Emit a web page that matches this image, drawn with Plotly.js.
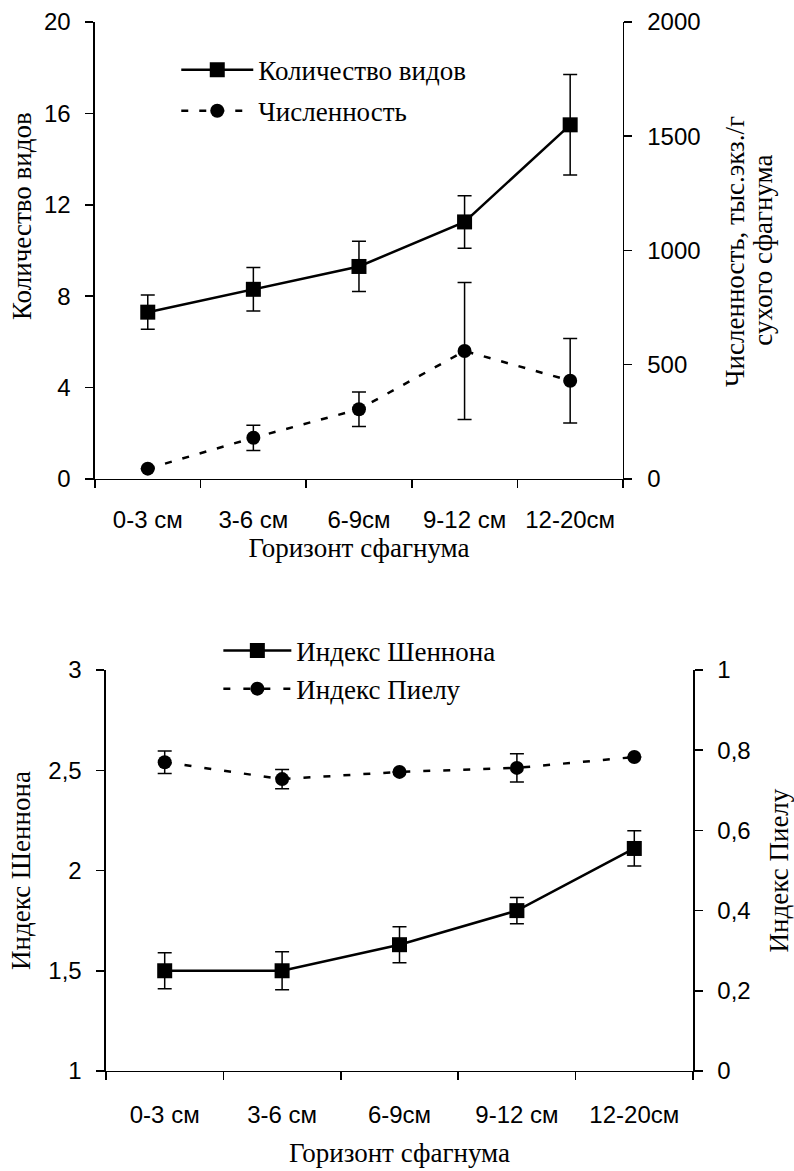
<!DOCTYPE html>
<html>
<head>
<meta charset="utf-8">
<script src="https://cdn.plot.ly/plotly-3.0.1.min.js"></script>
<style>html,body{margin:0;padding:0;background:#fff}#chart{width:794px;height:1171px}</style>
</head>
<body>
<div id="chart"></div>
<script>
// ---- data ----
const categories = ['0-3 см', '3-6 см', '6-9см', '9-12 см', '12-20см'];
const speciesCount = [7.3, 8.3, 9.3, 11.25, 15.5];
const speciesErr = [0.75, 0.95, 1.1, 1.15, 2.2];
const abundance = [45, 180, 305, 560, 430];
const abundanceErr = [0, 55, 75, 300, 185];
const shannon = [1.5, 1.5, 1.63, 1.8, 2.11];
const shannonErr = [0.09, 0.095, 0.09, 0.065, 0.088];
const pielou = [0.77, 0.728, 0.746, 0.756, 0.783];
const pielouErr = [0.028, 0.024, 0, 0.035, 0];

const leftTopTicks = [0, 4, 8, 12, 16, 20];
const leftTopText = ['0', '4', '8', '12', '16', '20'];
const rightTopTicks = [0, 500, 1000, 1500, 2000];
const rightTopText = ['0', '500', '1000', '1500', '2000'];
const leftBotTicks = [1, 1.5, 2, 2.5, 3];
const leftBotText = ['1', '1,5', '2', '2,5', '3'];
const rightBotTicks = [0, 0.2, 0.4, 0.6, 0.8, 1];
const rightBotText = ['0', '0,2', '0,4', '0,6', '0,8', '1'];
const leftTopTitle = 'Количество видов';
const rightTopTitle = ['Численность, тыс.экз./г', 'сухого сфагнума'];

const serif = '"Liberation Serif", "Times New Roman", Times, serif';
const sans = '"Liberation Sans", Arial, sans-serif';
function tf() { return {family: serif, size: 27, color: '#000'}; }

function err(arr) {
  return {type: 'data', array: arr, visible: true, color: '#000', thickness: 1.5, width: 7};
}

const traces = [
  {x: categories, y: speciesCount, name: 'Количество видов', type: 'scatter', mode: 'lines+markers',
   xaxis: 'x', yaxis: 'y', legend: 'legend', legendgroup: 'a',
   line: {color: '#000', width: 2.5}, marker: {symbol: 'square', size: 15, color: '#000'},
   error_y: err(speciesErr)},
  {x: categories, y: abundance, name: 'Численность', type: 'scatter', mode: 'lines+markers',
   xaxis: 'x', yaxis: 'y2', legend: 'legend', legendgroup: 'b',
   line: {color: '#000', width: 2.5, dash: '7px,11px'}, marker: {symbol: 'circle', size: 14, color: '#000'},
   error_y: err(abundanceErr)},
  {x: categories, y: shannon, name: 'Индекс Шеннона', type: 'scatter', mode: 'lines+markers',
   xaxis: 'x2', yaxis: 'y3', legend: 'legend2', legendgroup: 'c',
   line: {color: '#000', width: 2.5}, marker: {symbol: 'square', size: 15, color: '#000'},
   error_y: err(shannonErr)},
  {x: categories, y: pielou, name: 'Индекс Пиелу', type: 'scatter', mode: 'lines+markers',
   xaxis: 'x2', yaxis: 'y4', legend: 'legend2', legendgroup: 'd',
   line: {color: '#000', width: 2.5, dash: '7px,13px'}, marker: {symbol: 'circle', size: 14, color: '#000'},
   error_y: err(pielouErr)}
];

function ax(extra) {
  return Object.assign({
    showgrid: false, zeroline: false, showline: true, linecolor: '#000', linewidth: 1.5,
    ticks: 'outside', ticklen: 8, tickwidth: 1.5, tickcolor: '#000',
    tickfont: {family: sans, size: 24, color: '#000'}, fixedrange: true
  }, extra);
}

const layout = {
  width: 794, height: 1171,
  margin: {l: 0, r: 0, t: 0, b: 0},
  paper_bgcolor: '#fff', plot_bgcolor: '#fff',
  font: {family: serif, color: '#000'},
  xaxis: ax({
    domain: [0.1196, 0.7846], anchor: 'y', type: 'category', range: [-0.5, 4.5], tickson: 'boundaries',
    ticklabelstandoff: 19,
    title: {text: 'Горизонт сфагнума', font: tf(), standoff: 6}
  }),
  yaxis: ax({
    domain: [0.5910, 0.9812], anchor: 'x', range: [0, 20], tickmode: 'array',
    tickvals: leftTopTicks, ticktext: leftTopText, ticklabelstandoff: 10
  }),
  yaxis2: ax({
    overlaying: 'y', side: 'right', anchor: 'x', range: [0, 2000], tickmode: 'array',
    tickvals: rightTopTicks, ticktext: rightTopText, ticklabelstandoff: 10
  }),
  xaxis2: ax({
    domain: [0.1335, 0.8728], anchor: 'y3', type: 'category', range: [-0.5, 4.5], tickson: 'boundaries',
    ticklabelstandoff: 22,
    title: {text: 'Горизонт сфагнума', font: tf(), standoff: 16}
  }),
  yaxis3: ax({
    domain: [0.0854, 0.4278], anchor: 'x2', range: [1, 3], tickmode: 'array',
    tickvals: leftBotTicks, ticktext: leftBotText, ticklabelstandoff: 10,
    title: {text: 'Индекс Шеннона', font: tf(), standoff: 10}
  }),
  yaxis4: ax({
    overlaying: 'y3', side: 'right', anchor: 'x2', range: [0, 1], tickmode: 'array',
    tickvals: rightBotTicks, ticktext: rightBotText, ticklabelstandoff: 10,
    title: {text: 'Индекс Пиелу', font: tf(), standoff: 24}
  }),
  annotations: [
    {text: leftTopTitle, xref: 'paper', yref: 'paper', x: 0.0277, y: 0.8155, textangle: -90,
     showarrow: false, font: tf(), xanchor: 'center', yanchor: 'middle'},
    {text: rightTopTitle[0], xref: 'paper', yref: 'paper', x: 0.926, y: 0.785, textangle: -90,
     showarrow: false, font: tf(), xanchor: 'center', yanchor: 'middle'},
    {text: rightTopTitle[1], xref: 'paper', yref: 'paper', x: 0.961, y: 0.786, textangle: -90,
     showarrow: false, font: tf(), xanchor: 'center', yanchor: 'middle'}
  ],
  legend: {
    x: 0.222, y: 0.961, xanchor: 'left', yanchor: 'top', bgcolor: 'rgba(0,0,0,0)',
    font: {family: serif, size: 27, color: '#000'}, tracegroupgap: 3, itemwidth: 72
  },
  legend2: {
    x: 0.275, y: 0.465, xanchor: 'left', yanchor: 'top', bgcolor: 'rgba(0,0,0,0)',
    font: {family: serif, size: 27, color: '#000'}, tracegroupgap: 0, itemwidth: 68
  },
  showlegend: true
};

Plotly.newPlot('chart', traces, layout, {displayModeBar: false, staticPlot: true});
</script>
</body>
</html>
